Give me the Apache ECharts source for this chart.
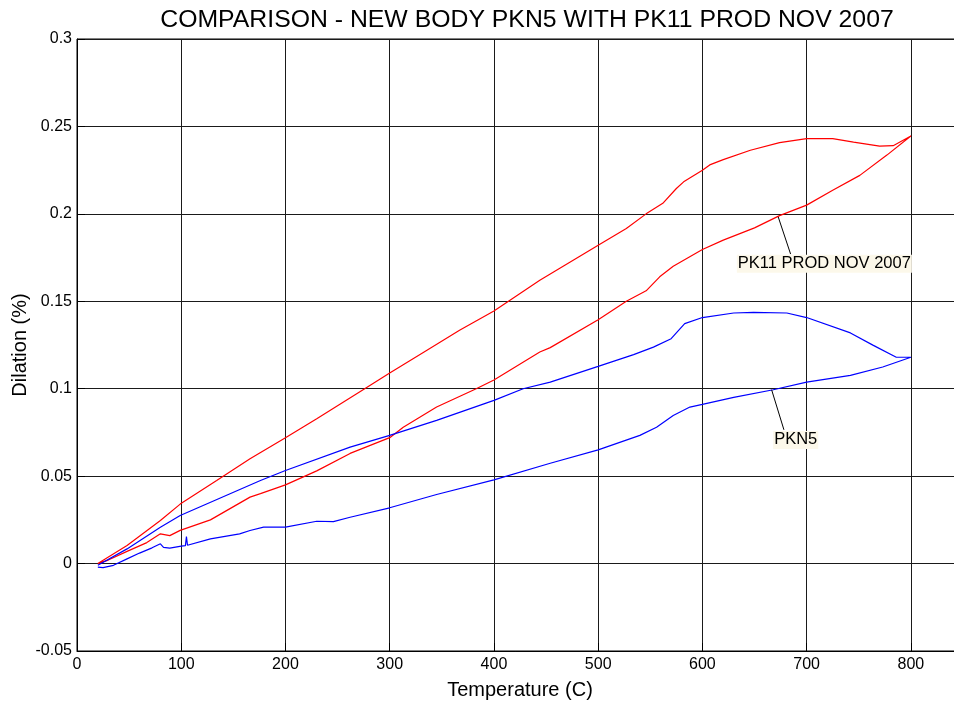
<!DOCTYPE html>
<html>
<head>
<meta charset="utf-8">
<script src="https://cdn.jsdelivr.net/npm/echarts@6/dist/echarts.min.js"></script>
<style>
  html, body { margin: 0; padding: 0; background: #fff; }
  #chart { width: 954px; height: 706px; }
</style>
</head>
<body>
<div id="chart"></div>
<script>
// PK11 PROD NOV 2007 - heating branch then cooling branch
const pk11HeatT = [20, 30, 48, 67, 80, 89, 99, 128, 166, 176, 200, 230, 262, 300, 313, 345, 383, 400, 444, 454, 500, 527, 546, 559, 572, 600, 620, 650, 674, 700, 725, 751, 777, 800];
const pk11HeatD = [0, 0.002, 0.007, 0.012, 0.017, 0.016, 0.019, 0.025, 0.038, 0.040, 0.045, 0.053, 0.063, 0.072, 0.078, 0.0895, 0.100, 0.105, 0.121, 0.1235, 0.1395, 0.150, 0.156, 0.164, 0.170, 0.1796, 0.185, 0.192, 0.199, 0.205, 0.2135, 0.222, 0.2336, 0.2445];
const pk11CoolT = [800, 783, 770, 745, 725, 700, 674, 646, 620, 607, 600, 582, 575, 562, 546, 527, 500, 444, 400, 367, 333, 300, 276, 230, 200, 166, 134, 99, 80, 48, 20];
const pk11CoolD = [0.2445, 0.239, 0.2387, 0.241, 0.243, 0.243, 0.2407, 0.2364, 0.231, 0.228, 0.225, 0.2183, 0.2145, 0.206, 0.200, 0.1916, 0.182, 0.162, 0.1445, 0.1334, 0.121, 0.109, 0.100, 0.0828, 0.072, 0.060, 0.0475, 0.034, 0.0246, 0.0103, 0];

// PKN5 - heating branch then cooling branch
const pkn5HeatT = [20, 25, 35, 48, 60, 72, 80, 83, 89, 100, 104, 105, 106, 128, 156, 166, 179, 200, 230, 246, 262, 300, 345, 400, 454, 500, 540, 556, 572, 588, 600, 630, 668, 700, 742, 773, 800];
const pkn5HeatD = [-0.002, -0.0023, -0.001, 0.0027, 0.006, 0.009, 0.0113, 0.0093, 0.0088, 0.0100, 0.0103, 0.0155, 0.0105, 0.0141, 0.017, 0.0189, 0.0208, 0.0208, 0.0242, 0.024, 0.0265, 0.0319, 0.0395, 0.0479, 0.0574, 0.065, 0.0733, 0.078, 0.0847, 0.0895, 0.091, 0.095, 0.0994, 0.1038, 0.1076, 0.1124, 0.118];
const pkn5CoolT = [800, 786, 764, 742, 700, 681, 649, 630, 600, 583, 570, 553, 534, 500, 454, 428, 400, 345, 300, 262, 200, 176, 99, 80, 48, 20];
const pkn5CoolD = [0.118, 0.118, 0.1248, 0.1319, 0.1407, 0.1433, 0.1437, 0.1433, 0.1407, 0.1372, 0.1286, 0.1238, 0.1195, 0.1128, 0.1038, 0.100, 0.0933, 0.0819, 0.0733, 0.0666, 0.0532, 0.0475, 0.0275, 0.0208, 0.0084, -0.001];

const titleText = "COMPARISON - NEW BODY PKN5 WITH PK11 PROD NOV 2007";
const xName = "Temperature (C)";
const yName = "Dilation (%)";

function loop(t1, d1, t2, d2) {
  const pts = [];
  for (let i = 0; i < t1.length; i++) pts.push([t1[i], d1[i]]);
  for (let i = 0; i < t2.length; i++) pts.push([t2[i], d2[i]]);
  return pts;
}

const font = "Liberation Sans, Arial, sans-serif";

function annotation(lineFrom, lineTo, textAt, text) {
  return {
    markLine: {
      silent: true,
      symbol: "none",
      animation: false,
      label: { show: false },
      lineStyle: { color: "#000", width: 1, type: "solid" },
      data: [[{ coord: lineFrom }, { coord: lineTo }]],
    },
    markPoint: {
      silent: true,
      animation: false,
      symbol: "rect",
      symbolSize: 1,
      itemStyle: { color: "rgba(0,0,0,0)" },
      data: [{ coord: textAt }],
      label: {
        show: true,
        position: "inside",
        formatter: text,
        color: "#000",
        fontFamily: font,
        fontSize: 16.5,
        backgroundColor: "#fcf8ea",
        padding: [1, 1, 0, 1],
      },
    },
  };
}

const chart = echarts.init(document.getElementById("chart"), null, { renderer: "canvas" });

const pk11Note = annotation([672.7, 0.1983], [684.6, 0.1770], [717, 0.1715], "PK11 PROD NOV 2007");
const pkn5Note = annotation([666.4, 0.0994], [678.2, 0.0765], [689.5, 0.0707], "PKN5");

const option = {
  animation: false,
  backgroundColor: "#fff",
  title: {
    text: titleText,
    left: 522,
    textAlign: "center",
    top: 3,
    textStyle: { fontFamily: font, fontSize: 24.8, fontWeight: "normal", color: "#000" },
  },
  grid: {
    left: 77,
    top: 39,
    width: 886,
    height: 612,
    outerBoundsMode: "none",
    containLabel: false,
    show: true,
    borderColor: "#000",
    borderWidth: 1,
    backgroundColor: "#fff",
  },
  xAxis: {
    type: "value",
    min: 0,
    max: 850,
    interval: 100,
    name: xName,
    nameLocation: "middle",
    nameGap: 29,
    nameMoveOverlap: false,
    nameTextStyle: { fontFamily: font, fontSize: 20, color: "#000" },
    axisLine: { show: true, onZero: false, lineStyle: { color: "#000", width: 1 } },
    axisTick: { show: true, inside: true, length: 8, lineStyle: { color: "#000" } },
    axisLabel: { fontFamily: font, fontSize: 16, color: "#000", margin: 6, showMaxLabel: false },
    splitLine: { show: true, lineStyle: { color: "#1a1a1a", width: 1, type: "solid" } },
  },
  yAxis: {
    type: "value",
    min: -0.05,
    max: 0.3,
    interval: 0.05,
    name: yName,
    nameLocation: "middle",
    nameGap: 47,
    nameMoveOverlap: false,
    nameTextStyle: { fontFamily: font, fontSize: 20, color: "#000" },
    axisLine: { show: true, onZero: false, lineStyle: { color: "#000", width: 1 } },
    axisTick: { show: true, inside: true, length: 8, lineStyle: { color: "#000" } },
    axisLabel: { fontFamily: font, fontSize: 16, color: "#000", margin: 5 },
    splitLine: { show: true, lineStyle: { color: "#1a1a1a", width: 1, type: "solid" } },
  },
  series: [
    Object.assign({
      name: "PK11 PROD NOV 2007",
      type: "line",
      data: loop(pk11HeatT, pk11HeatD, pk11CoolT, pk11CoolD),
      showSymbol: false,
      symbol: "none",
      lineStyle: { color: "#ff0000", width: 1.2 },
      itemStyle: { color: "#ff0000" },
    }, pk11Note),
    Object.assign({
      name: "PKN5",
      type: "line",
      data: loop(pkn5HeatT, pkn5HeatD, pkn5CoolT, pkn5CoolD),
      showSymbol: false,
      symbol: "none",
      lineStyle: { color: "#0000ff", width: 1.2 },
      itemStyle: { color: "#0000ff" },
    }, pkn5Note),
  ],
};

chart.setOption(option);
</script>
</body>
</html>
